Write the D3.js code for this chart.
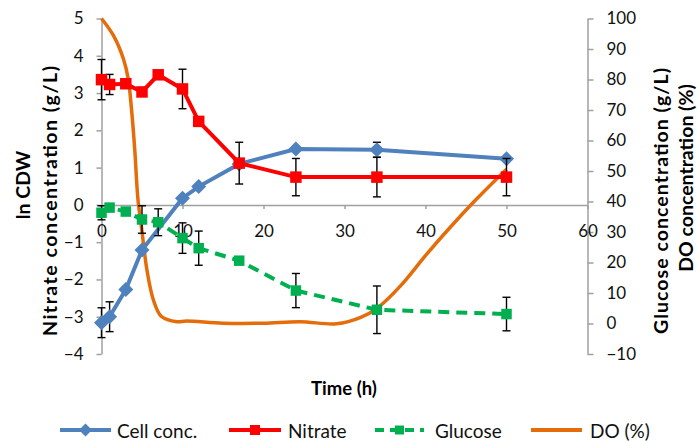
<!DOCTYPE html>
<html>
<head>
<meta charset="utf-8">
<script src="https://cdn.jsdelivr.net/npm/d3@7"></script>
<style>
  html, body { margin: 0; padding: 0; background: #fff; }
  svg { display: block; font-family: Lato, "Open Sans", sans-serif; }
</style>
</head>
<body>
<svg id="chart" width="697" height="441"></svg>
<script>
// Sampling times (h)
const times = [0, 1, 3, 5, 7, 10, 12, 17, 24, 34, 50];

// ln CDW (left axis)
const cellConc = [-3.16, -3.0, -2.27, -1.21, null, 0.18, 0.49, 1.1, 1.50, 1.48, 1.24];
const cellErr  = [0.4, 0.4, 0, 0, 0, 0, 0, 0, 0, 0.2, 0];

// Nitrate concentration, g/L (left axis)
const nitrate    = [3.36, 3.23, 3.25, 3.03, 3.49, 3.11, 2.24, 1.12, 0.745, 0.745, 0.745];
const nitrateErr = [0.54, 0.27, 0, 0, 0, 0.53, 0, 0.56, 0.5, 0.53, 0.5];

// Glucose concentration, g/L (right axis)
const glucose    = [36.3, 38.0, 36.7, 34.1, 33.2, 28.0, 24.7, 20.6, 10.8, 4.5, 3.1];
const glucoseErr = [2.3, 0, 0, 4.5, 4.4, 5.0, 5.6, 0, 5.6, 7.8, 5.5];

// Dissolved oxygen, % (right axis), logged trace
const doTimes  = [0, 1.5, 2.7, 3.3, 3.7, 4.1, 4.5, 5.0, 5.6, 6.4, 7.4, 9.3, 10.5, 15, 20, 24.5, 29, 32, 34.2, 37, 40.1, 43, 46.3, 50];
const doValues = [100, 94.3, 86.8, 80.2, 70.4, 57.2, 40.7, 30.2, 17.7, 7.8, 2.3, 0.6, 0.8, 0.1, 0.1, 0.6, -0.1, 2.0, 5.4, 12.6, 22.6, 31.4, 40.8, 50.6];

// Axis ticks
const xTicks = [0, 10, 20, 30, 40, 50, 60];
const leftTicks = [-4, -3, -2, -1, 0, 1, 2, 3, 4, 5];
const rightTicks = [-10, 0, 10, 20, 30, 40, 50, 60, 70, 80, 90, 100];

const COLORS = { cell: "#4f81bd", nitrate: "#ff0000", glucose: "#00b050", dox: "#e46c0a" };
const AXIS_GRAY = "#a0a0a0";

const svg = d3.select("#chart");
const plot = { left: 101.5, right: 587.5, top: 18.5, bottom: 354 };

const x = d3.scaleLinear().domain([0, 60]).range([plot.left, plot.right]);
const yL = d3.scaleLinear().domain([-4, 5]).range([plot.bottom, plot.top]);
const yR = d3.scaleLinear().domain([-10, 100]).range([plot.bottom, plot.top]);

function styleAxis(g) {
  g.select(".domain").attr("stroke", AXIS_GRAY).attr("stroke-width", 1.5);
  g.selectAll(".tick line").attr("stroke", AXIS_GRAY).attr("stroke-width", 1.5);
  g.selectAll(".tick text").attr("fill", "#111").style("font-size", "17px")
    .style("font-family", "Lato, 'Open Sans', sans-serif");
}

// Left axis
svg.append("g")
  .attr("transform", `translate(${plot.left},0)`)
  .call(d3.axisLeft(yL).tickValues(leftTicks).tickSize(5).tickSizeOuter(0).tickPadding(13).tickFormat(d3.format("d")))
  .call(styleAxis);

// Right axis
svg.append("g")
  .attr("transform", `translate(${plot.right},0)`)
  .call(d3.axisRight(yR).tickValues(rightTicks).tickSize(6).tickSizeOuter(0).tickPadding(13).tickFormat(d3.format("d")))
  .call(styleAxis);

// Time axis crossing at ln CDW = 0
svg.append("g")
  .attr("transform", `translate(0,${yL(0)})`)
  .call(d3.axisBottom(x).tickValues(xTicks).tickSize(4).tickSizeOuter(0).tickPadding(16).tickFormat(d3.format("d")))
  .call(styleAxis);

// Axis titles (rotated, bold)
function vTitle(lines, size) {
  lines.forEach(t => {
    const txt = svg.append("text")
      .attr("transform", `translate(${t.x},${t.y}) rotate(-90)`)
      .attr("text-anchor", "middle")
      .attr("dominant-baseline", "central")
      .style("font-weight", "bold")
      .style("font-size", size + "px")
      .attr("fill", "#000")
      .text(t.text);
    if (t.len) txt.attr("textLength", t.len).attr("lengthAdjust", "spacing");
  });
}
const titleSize = 19.5;
vTitle([
  { text: "ln CDW", x: 22, y: 185 },
  { text: "Nitrate concentration (g/L)", x: 49, y: 201, len: 270 }
], titleSize);
vTitle([
  { text: "Glucose concentration (g/L)", x: 660, y: 201, len: 266 },
  { text: "DO concentration (%)", x: 685, y: 178 }
], titleSize);

svg.append("text")
  .attr("x", 344).attr("y", 388)
  .attr("text-anchor", "middle")
  .attr("dominant-baseline", "central")
  .style("font-weight", "bold")
  .style("font-size", "18.5px")
  .text("Time (h)");

// Marker helpers
const diamondPath = (r) => `M0,${-r}L${r},0L0,${r}L${-r},0Z`;
const squarePath = (s) => `M${-s / 2},${-s / 2}h${s}v${s}h${-s}Z`;

function errorBars(g, vals, errs, yScale) {
  const rows = times.map((t, i) => ({ t, v: vals[i], e: errs[i] })).filter(d => d.v != null && d.e > 0);
  const eg = g.append("g").attr("stroke", "#000").attr("stroke-width", 1.4).attr("fill", "none");
  rows.forEach(d => {
    const cx = x(d.t), y1 = yScale(d.v - d.e), y2 = yScale(d.v + d.e);
    eg.append("line").attr("x1", cx).attr("x2", cx).attr("y1", y1).attr("y2", y2);
    eg.append("line").attr("x1", cx - 4).attr("x2", cx + 4).attr("y1", y1).attr("y2", y1);
    eg.append("line").attr("x1", cx - 4).attr("x2", cx + 4).attr("y1", y2).attr("y2", y2);
  });
}

function series(vals, errs, yScale, color, marker, dash) {
  const g = svg.append("g");
  errorBars(g, vals, errs, yScale);
  const pts = times.map((t, i) => ({ t, v: vals[i] })).filter(d => d.v != null);
  g.append("path")
    .datum(pts)
    .attr("fill", "none")
    .attr("stroke", color)
    .attr("stroke-width", 4)
    .attr("stroke-dasharray", dash || null)
    .attr("d", d3.line().x(d => x(d.t)).y(d => yScale(d.v)));
  g.selectAll(".mk").data(pts).join("path")
    .attr("transform", d => `translate(${x(d.t)},${yScale(d.v)})`)
    .attr("d", marker)
    .attr("fill", color);
}

// DO trace (smoothed, no markers)
const doPts = doTimes.map((t, i) => ({ t, v: doValues[i] }));
svg.append("path")
  .datum(doPts)
  .attr("fill", "none")
  .attr("stroke", COLORS.dox)
  .attr("stroke-width", 3.5)
  .attr("d", d3.line().curve(d3.curveCatmullRom.alpha(0.5)).x(d => x(d.t)).y(d => yR(d.v)));

series(cellConc, cellErr, yL, COLORS.cell, diamondPath(7.5));
series(glucose, glucoseErr, yR, COLORS.glucose, squarePath(10.5), "11,7");
series(nitrate, nitrateErr, yL, COLORS.nitrate, squarePath(11.5));

// Legend
const legendY = 430;
const legendItems = [
  { name: "Cell conc.", color: COLORS.cell, x0: 60, x1: 111, tx: 117, marker: diamondPath(6.5) },
  { name: "Nitrate", color: COLORS.nitrate, x0: 229, x1: 281, tx: 288, marker: squarePath(10) },
  { name: "Glucose", color: COLORS.glucose, x0: 375, x1: 424, tx: 435, marker: squarePath(9), dash: "9,6" },
  { name: "DO (%)", color: COLORS.dox, x0: 531, x1: 582, tx: 590, marker: null }
];
const lg = svg.append("g");
legendItems.forEach(it => {
  lg.append("line")
    .attr("x1", it.x0).attr("x2", it.x1).attr("y1", legendY).attr("y2", legendY)
    .attr("stroke", it.color).attr("stroke-width", 4)
    .attr("stroke-dasharray", it.dash || null);
  if (it.marker) {
    lg.append("path")
      .attr("transform", `translate(${(it.x0 + it.x1) / 2},${legendY})`)
      .attr("d", it.marker).attr("fill", it.color);
  }
  lg.append("text")
    .attr("x", it.tx).attr("y", legendY)
    .attr("dominant-baseline", "central")
    .style("font-size", "19px")
    .attr("fill", "#111")
    .text(it.name);
});
</script>
</body>
</html>
